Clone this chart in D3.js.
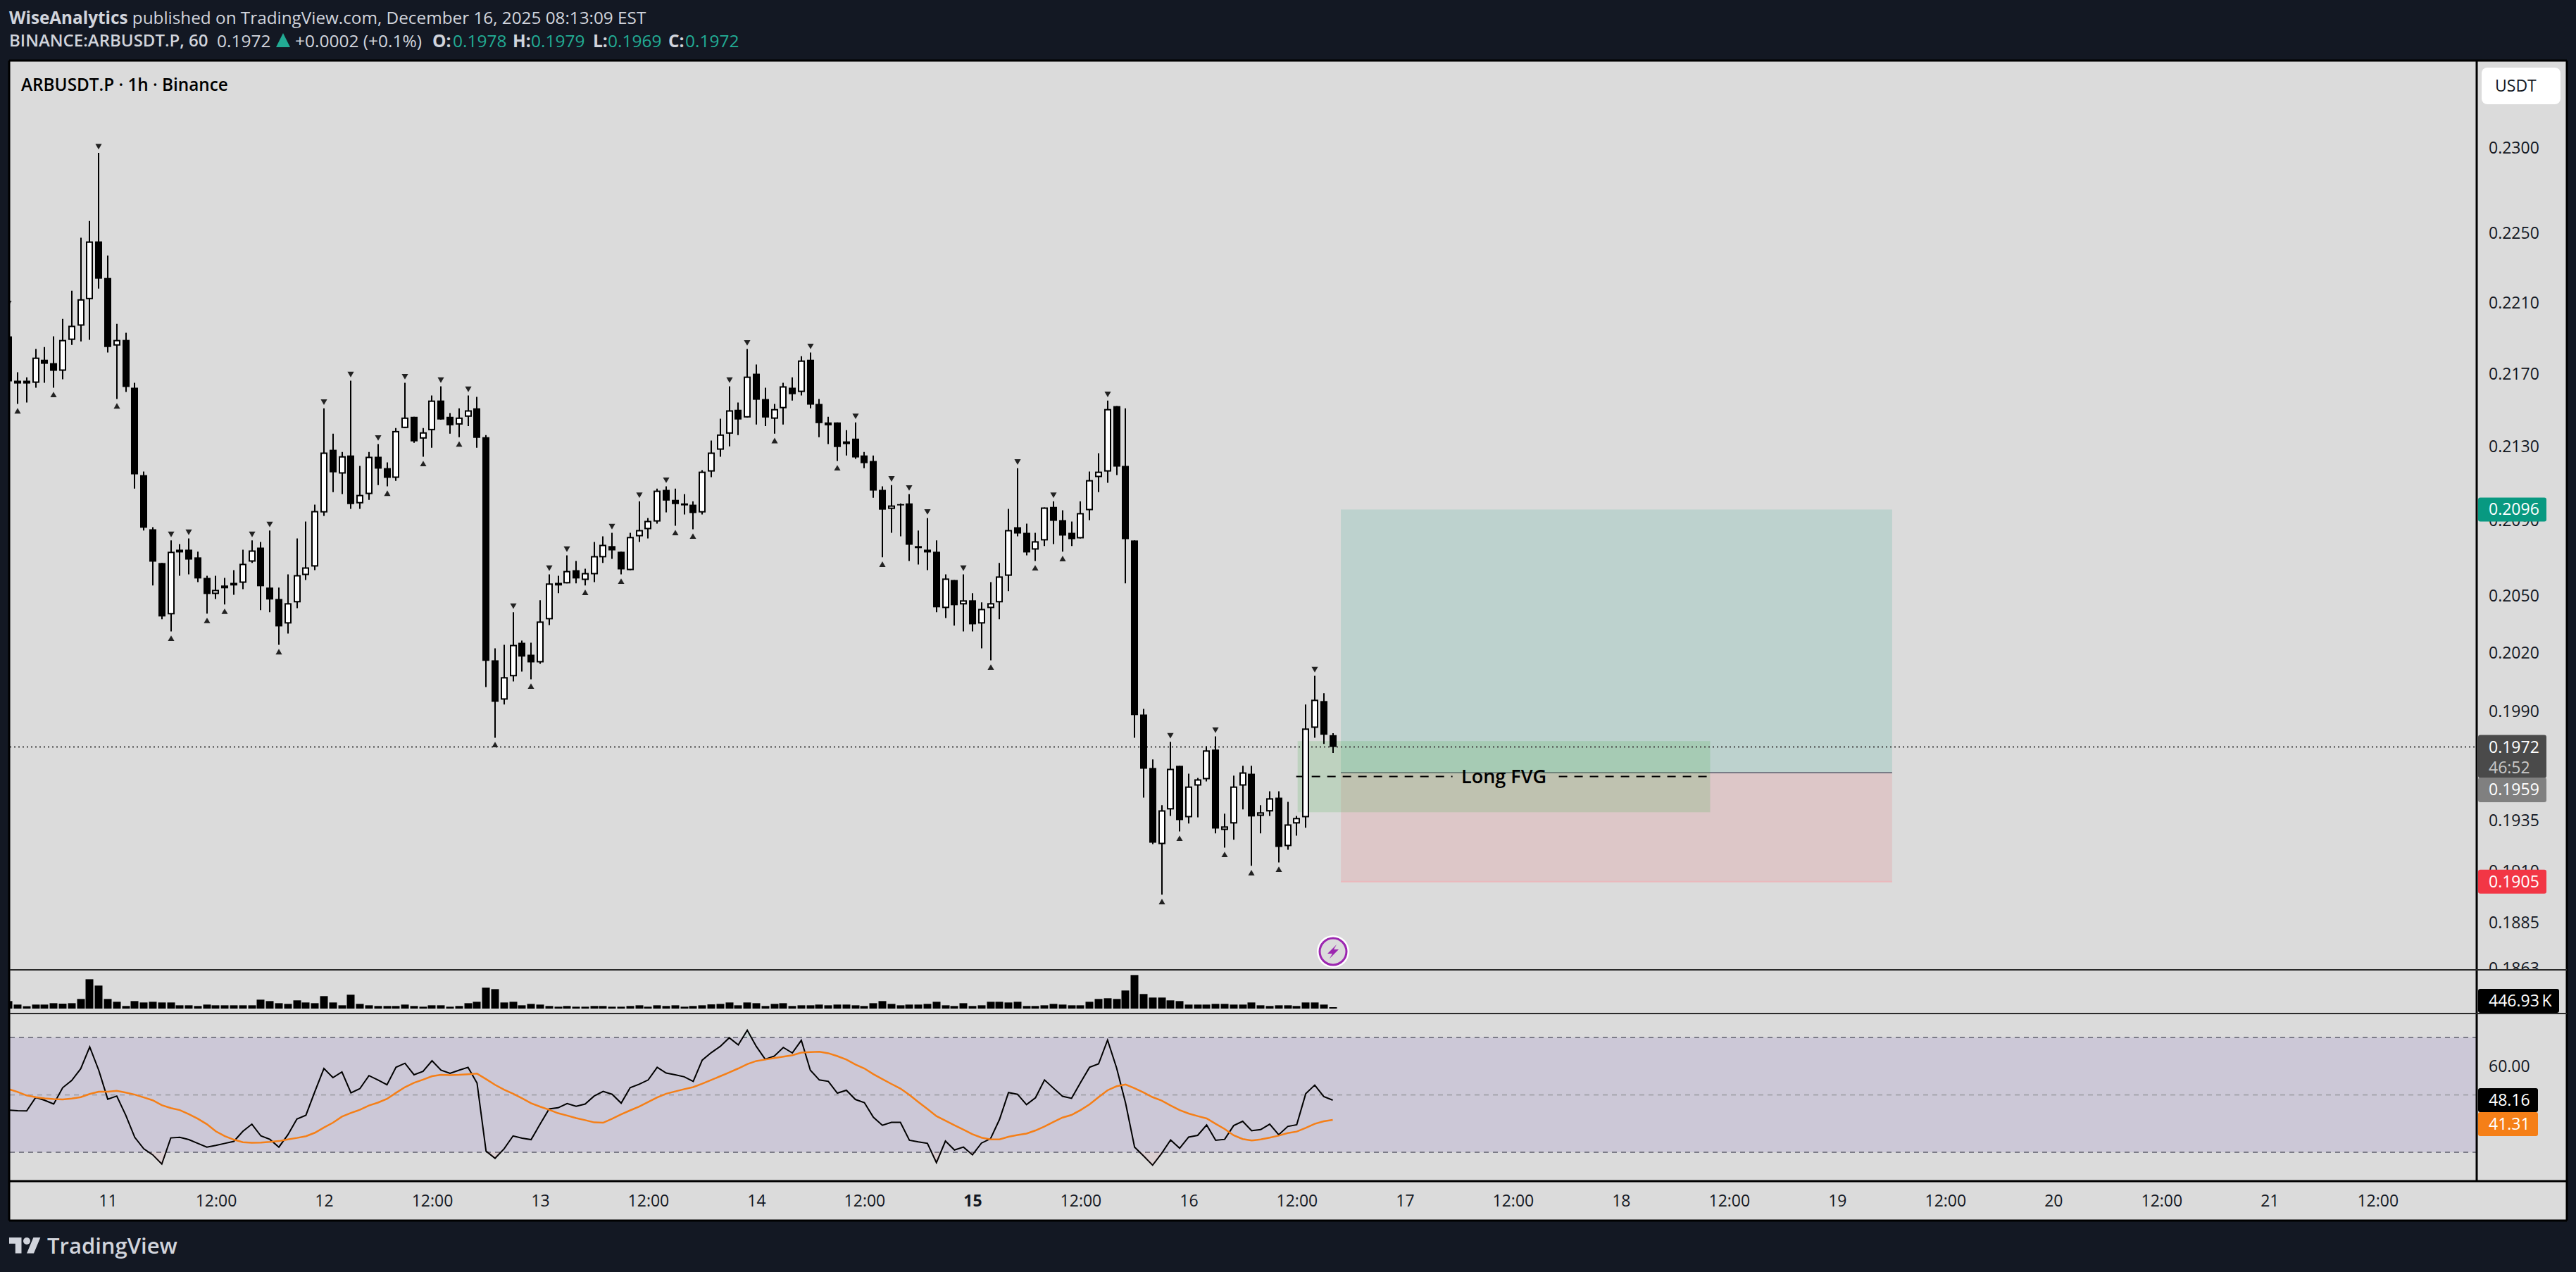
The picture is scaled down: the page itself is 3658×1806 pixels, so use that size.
<!DOCTYPE html>
<html>
<head>
<meta charset="utf-8">
<script src="https://cdn.jsdelivr.net/npm/d3@7"></script>
<style>
  html, body { margin: 0; padding: 0; background: #131823; overflow: hidden; }
  svg { display: block; }
  text { font-family: "Open Sans", sans-serif; }
</style>
</head>
<body>
<div id="chart"></div>
<script>
// hourly candles, first row is Dec 10, then one row per 12 bars
const opens = [
  .21913,.21665,.21665,.21653,.21782,.21763,.21720,.21893,.21973,.22123,.22454,
  .22244,.21861,.21893,.21626,.21146,.20854,.20674,.20403,.20745,.20745,.20704,.20595,
  .20510,.20555,.20555,.20569,.20681,.20756,.20544,.20484,.20355,.20466,.20610,.20655,
  .20944,.21284,.21154,.21253,.20993,.21043,.21246,.21184,.21131,.21403,.21465,.21345,
  .21391,.21555,.21465,.21422,.21465,.21512,.21353,.20164,.19961,.20081,.20255,.20193,
  .20153,.20377,.20555,.20566,.20636,.20584,.20614,.20704,.20764,.20734,.20636,.20816,
  .20854,.20895,.21066,.21012,.20993,.20986,.20944,.21165,.21284,.21372,.21504,.21461,
  .21704,.21563,.21454,.21512,.21626,.21602,.21782,.21536,.21434,.21434,.21315,.21345,
  .21253,.21223,.21066,.20963,.20989,.20993,.20764,.20745,.20734,.20436,.20584,.20455,
  .20477,.20355,.20436,.20466,.20606,.20865,.20835,.20745,.20794,.20974,.20903,.20835,
  .20805,.20956,.21135,.21165,.21524,.21196,.20794,.19885,.19614,.19234,.19406,.19625,
  .19367,.19525,.19557,.19707,.19304,.19336,.19525,.19585,.19374,.19396,.19465,.19224,
  .19336,.19367,.19817,.19954,.1978
];
const highs = [
  .22064,.21712,.21684,.21842,.21853,.21913,.22012,.22171,.22475,.22572,.22971,
  .22373,.21984,.21933,.21653,.21165,.20865,.20674,.20794,.20775,.20805,.20734,.20606,
  .20606,.20595,.20636,.20745,.20794,.20786,.20847,.20544,.20614,.20805,.20895,.20986,
  .21512,.21372,.21272,.21665,.21196,.21272,.21315,.21215,.21403,.21653,.21465,.21403,
  .21583,.21634,.21485,.21512,.21583,.21575,.21364,.20226,.20244,.20414,.20266,.20255,
  .20477,.20614,.20606,.20715,.20685,.20644,.20786,.20816,.20835,.20734,.20835,.21004,
  .20914,.21073,.21085,.21073,.21043,.21004,.21173,.21334,.21454,.21634,.21544,.21842,
  .21755,.21626,.21536,.21653,.21684,.21802,.21822,.21563,.21465,.21434,.21391,.21434,
  .21272,.21253,.21085,.21092,.20993,.21043,.20847,.20914,.20794,.20614,.20584,.20614,
  .20514,.20466,.20573,.20674,.20963,.21184,.20884,.20835,.20971,.21004,.20956,.20895,
  .21004,.21165,.21265,.21555,.21524,.21512,.20794,.19914,.19657,.19427,.19746,.19625,
  .19585,.19564,.19724,.19774,.19385,.19575,.19625,.19625,.19427,.19497,.19497,.19444,
  .19374,.19936,.20084,.19994,.1979
];
const lows = [
  .21661,.21536,.21544,.21626,.21653,.21626,.21673,.21865,.21885,.21893,.22183,
  .21822,.21563,.21602,.21073,.20847,.20555,.20377,.20314,.20606,.20614,.20573,.20407,
  .20484,.20455,.20506,.20536,.20674,.20425,.20414,.20244,.20303,.20436,.20584,.20636,
  .20926,.21054,.21043,.20963,.20963,.21012,.21092,.21085,.21115,.21403,.21322,.21246,
  .21295,.21450,.21372,.21353,.21414,.21295,.20026,.19767,.19936,.20055,.20106,.20066,
  .20146,.20347,.20514,.20566,.20566,.20555,.20573,.20674,.20696,.20614,.20636,.20786,
  .20805,.20884,.20944,.20873,.20933,.20854,.20933,.21135,.21246,.21303,.21364,.21461,
  .21422,.21414,.21372,.21422,.21555,.21583,.21512,.21353,.21315,.21223,.21253,.21234,
  .21184,.21023,.20704,.20835,.20816,.20685,.20666,.20636,.20414,.20384,.20344,.20314,
  .20314,.20226,.20164,.20377,.20525,.20816,.20715,.20685,.20764,.20775,.20734,.20764,
  .20805,.20903,.21054,.21104,.21146,.20566,.19767,.19465,.19234,.18986,.19374,.19297,
  .19336,.19367,.19546,.19287,.19217,.19256,.19406,.19127,.19287,.19374,.19144,.19206,
  .19276,.19315,.19767,.19735,.1969
];
const closes = [
  .21661,.21649,.21649,.21794,.21759,.21720,.21893,.21973,.22123,.22454,.22240,
  .21853,.21893,.21630,.21150,.20862,.20681,.20392,.20734,.20730,.20692,.20592,.20510,
  .20532,.20540,.20569,.20670,.20741,.20551,.20481,.20340,.20462,.20610,.20651,.20952,
  .21269,.21161,.21249,.20989,.21039,.21246,.21181,.21131,.21387,.21461,.21330,.21380,
  .21555,.21450,.21418,.21461,.21501,.21349,.20161,.19950,.20077,.20244,.20183,.20153,
  .20366,.20566,.20569,.20632,.20592,.20621,.20711,.20771,.20741,.20640,.20813,.20850,
  .20899,.21062,.21008,.20989,.20982,.20941,.21165,.21269,.21368,.21501,.21450,.21688,
  .21559,.21461,.21508,.21634,.21590,.21778,.21532,.21430,.21418,.21299,.21330,.21242,
  .21211,.21062,.20959,.20982,.20982,.20771,.20753,.20730,.20440,.20592,.20451,.20477,
  .20351,.20432,.20462,.20603,.20850,.20831,.20730,.20790,.20971,.20899,.20820,.20801,
  .20941,.21119,.21165,.21508,.21192,.20801,.19882,.19610,.19241,.19402,.19610,.19353,
  .19521,.19557,.19703,.19311,.19322,.19521,.19592,.19371,.19392,.19462,.19220,.19332,
  .19364,.19814,.19961,.19782,.1972
];
// volume in millions
const volumes = [
  2.38,1.27,.75,1.27,1.27,1.71,1.56,1.71,3.05,9.31,7.3,
  3.05,2.16,.82,2.38,1.94,2.16,1.94,1.94,1.04,1.04,.82,1.27,
  1.04,1.04,1.04,1.04,1.04,2.83,2.38,1.71,1.49,2.61,1.94,1.71,
  3.95,1.94,1.04,4.4,1.49,1.04,.82,.82,.82,1.27,.82,.6,
  1.04,1.04,.6,.82,1.71,2.16,6.63,6.18,1.94,2.16,1.04,1.49,
  1.27,.82,.6,.82,.6,.6,.82,.82,.6,.6,.82,1.04,
  .6,1.04,.82,1.04,.6,.82,1.04,1.34,1.49,1.94,1.04,1.94,
  1.71,.82,1.49,1.71,.82,1.04,1.04,1.27,1.04,1.27,1.27,1.04,
  .82,1.71,2.38,1.49,1.04,1.27,1.27,1.49,2.16,1.04,.82,1.71,
  .82,1.04,2.16,2.16,1.94,2.16,.82,.82,1.04,1.49,1.27,1.04,
  1.04,2.16,3.05,3.28,3.05,5.74,10.65,4.62,3.5,3.5,2.61,2.38,
  1.27,1.27,1.27,1.49,1.49,1.27,1.27,1.94,1.04,.82,1.04,1.04,
  .82,1.94,1.94,1.27,.447
];
const rsiValues = [
  44.7,44.5,44.4,49.1,48.1,46.8,52.5,55.0,59.1,66.7,58.6,
  48.5,49.6,42.9,35.2,31.2,29.1,25.9,35.0,35.2,34.4,33.1,31.8,
  32.4,33.1,33.8,37.3,39.8,35.7,34.5,31.8,36.1,41.6,42.9,51.2,
  59.2,56.0,58.0,50.7,52.2,56.7,55.2,53.5,59.6,61.0,57.0,58.2,
  61.9,58.6,57.5,58.6,59.6,54.1,30.4,27.9,31.2,35.7,34.9,34.4,
  39.8,45.1,45.5,47.0,46.0,46.8,49.6,51.2,50.2,47.1,52.5,53.7,
  55.2,59.6,57.6,57.0,56.3,54.7,62.1,64.7,66.9,69.9,67.4,72.5,
  66.9,62.4,63.5,66.5,64.6,69.0,58.6,55.2,54.7,50.6,51.6,48.4,
  47.3,42.2,39.4,40.4,40.4,34.2,33.6,33.1,26.4,33.9,30.8,31.8,
  29.1,33.2,34.7,41.4,50.8,50.2,46.6,49.0,55.2,52.3,49.5,48.8,
  54.3,59.6,60.8,69.1,59.4,47.1,31.8,28.7,25.5,29.6,34.3,31.4,
  35.3,35.9,39.5,34.2,34.5,39.3,40.8,37.5,37.9,39.8,36.1,39.0,
  39.6,50.4,53.4,49.4,48.16
];
const rsiMaValues = [
  52.0,51.0,49.8,49.2,48.8,48.5,48.4,48.7,49.2,50.3,51.1,
  51.1,51.4,50.8,50.1,49.1,48.1,46.4,45.4,44.7,43.3,41.7,39.8,
  37.3,35.6,34.4,33.5,33.3,33.4,33.6,33.9,34.5,35.0,35.6,36.8,
  38.6,40.3,42.4,43.7,44.8,46.3,47.3,48.6,50.7,52.7,54.2,55.3,
  56.5,57.0,56.9,57.0,57.2,57.4,55.5,53.5,51.8,50.4,48.8,47.1,
  45.9,44.8,43.6,42.8,41.9,41.2,40.4,40.3,41.7,43.2,44.6,45.9,
  47.5,49.1,50.4,51.2,52.0,52.7,53.9,55.2,56.5,57.8,59.2,60.7,
  61.8,62.3,62.8,63.3,63.8,64.7,64.9,65.0,64.5,63.5,62.3,60.6,
  59.2,57.2,55.5,53.8,52.2,50.0,47.5,45.1,42.6,41.0,39.4,37.9,
  36.3,35.1,34.5,34.5,35.4,36.0,36.5,37.6,39.0,40.6,42.1,43.0,
  44.7,46.7,49.2,51.6,53.0,53.6,52.3,50.8,49.2,48.0,46.3,44.7,
  43.5,42.6,41.8,39.9,38.1,35.9,34.6,34.1,34.5,35.1,35.8,36.7,
  37.2,38.5,39.9,40.8,41.31
];
// bars with a fractal mark, counted from Dec 11 00:00
const fractalHighs = [-11,-1,7,9,16,18,24,27,30,33,37,40,45,49,51,56,59,62,69,71,78,83,87,89,91,95,101,105,111,118,123,134];
const fractalLows = [-10,-6,1,7,11,13,19,31,35,39,43,47,53,57,63,65,74,81,86,98,103,106,117,119,124,127,130];

const priceTicks = [.23,.225,.221,.217,.213,.209,.205,.202,.199,.1935,.191,.1885,.1863];
const rsiTicks = [60];
const rsiLevels = [70,50,30];
const timeTicks = d3.range(0, 253, 12);
const timeLabels = ["11","12:00","12","12:00","13","12:00","14","12:00","15","12:00","16","12:00","17","12:00","18","12:00","19","12:00","20","12:00","21","12:00"];

// long position and FVG drawings: prices and bars
const longBars = [136.9, 198.1];
const longPrices = { tp: .2096, entry: .1959, sl: .1905 };
const fvgBars = [132.1, 177.9];
const fvgPrices = [.1975, .19392];
const fvgMid = .19571;
const lastPrice = .1972;
const lastRsi = 48.16;
const firstBar = -11;

const W = 3658, H = 1806;
const chartL = 14, chartR = 3517, outerR = 3645;
const mainT = 87, mainB = 1377, volB = 1439, rsiB = 1677, timeB = 1733;
const bg = "#131823", pane = "#dbdbdb", teal = "#22ab94";

const x = d3.scaleLinear().domain([-11, 263]).range([12.3, chartR]);
const y = d3.scaleLog().domain([.18623, .23517]).range([mainB, mainT]);
const yVol = d3.scaleLinear().domain([0, 11]).range([1432, 1382.8]);
const yRsi = d3.scaleLinear().domain([30, 70]).range([1636, 1473]);

const bars = opens.map((o, k) => ({
  i: firstBar + k, o, h: highs[k], l: lows[k], c: closes[k], v: volumes[k],
  up: closes[k] >= o, rsi: rsiValues[k], ma: rsiMaValues[k]
}));
const px = i => Math.round(x(i));

const svg = d3.select("#chart").append("svg").attr("width", W).attr("height", H);
svg.append("rect").attr("width", W).attr("height", H).attr("fill", bg);
svg.append("rect").attr("x", chartL).attr("y", mainT).attr("width", outerR - chartL).attr("height", timeB - mainT).attr("fill", pane);

const defs = svg.append("defs");
function addClip(id, x0, y0, x1, y1) {
  defs.append("clipPath").attr("id", id).append("rect").attr("x", x0).attr("y", y0).attr("width", x1 - x0).attr("height", y1 - y0);
}
addClip("main-clip", chartL, mainT, chartR, mainB);
addClip("axis-clip", chartR, mainT, outerR, mainB);
addClip("vol-clip", chartL, mainB, chartR, volB);
addClip("rsi-clip", chartL, volB, chartR, rsiB);
addClip("under-30", chartL, yRsi(30), chartR, rsiB);
addClip("over-70", chartL, volB, chartR, yRsi(70));

const main = svg.append("g").attr("clip-path", "url(#main-clip)");

// position boxes
main.append("rect").attr("x", x(longBars[0])).attr("width", x(longBars[1]) - x(longBars[0]))
  .attr("y", y(longPrices.tp)).attr("height", y(longPrices.entry) - y(longPrices.tp)).attr("fill", "rgba(8,153,129,.14)");
main.append("rect").attr("x", x(longBars[0])).attr("width", x(longBars[1]) - x(longBars[0]))
  .attr("y", y(longPrices.entry)).attr("height", y(longPrices.sl) - y(longPrices.entry)).attr("fill", "rgba(242,54,69,.12)");
main.append("line").attr("x1", x(longBars[0])).attr("x2", x(longBars[1]))
  .attr("y1", y(longPrices.entry)).attr("y2", y(longPrices.entry)).attr("stroke", "#787b86").attr("stroke-width", 2);
main.append("line").attr("x1", x(longBars[0])).attr("x2", x(longBars[1]))
  .attr("y1", y(longPrices.sl)).attr("y2", y(longPrices.sl)).attr("stroke", "#eab8bd").attr("stroke-width", 2);

// FVG box with its label
main.append("rect").attr("x", x(fvgBars[0])).attr("width", x(fvgBars[1]) - x(fvgBars[0]))
  .attr("y", y(fvgPrices[0])).attr("height", y(fvgPrices[1]) - y(fvgPrices[0])).attr("fill", "rgba(76,175,80,.2)");
const fvgCenter = x((fvgBars[0] + fvgBars[1]) / 2);
[[x(fvgBars[0]) - 2, fvgCenter - 73], [fvgCenter + 78, x(fvgBars[1]) - 4]].forEach(([a, b]) => {
  main.append("line").attr("x1", a).attr("x2", b).attr("y1", y(fvgMid)).attr("y2", y(fvgMid))
    .attr("stroke", "#000").attr("stroke-width", 2).attr("stroke-dasharray", "12,10");
});
main.append("text").attr("x", fvgCenter).attr("y", y(fvgMid)).attr("dy", ".35em").attr("text-anchor", "middle")
  .attr("font-size", 27).attr("font-weight", 600).attr("fill", "#000").text("Long FVG");

// last price line
main.append("line").attr("x1", chartL).attr("x2", chartR).attr("y1", y(lastPrice)).attr("y2", y(lastPrice))
  .attr("stroke", "#444").attr("stroke-width", 2).attr("stroke-dasharray", "2,4");

// candles
main.selectAll(".wick").data(bars).enter().append("line").attr("class", "wick")
  .attr("x1", d => px(d.i)).attr("x2", d => px(d.i))
  .attr("y1", d => y(d.h)).attr("y2", d => y(d.l))
  .attr("stroke", "#000").attr("stroke-width", 2);
main.selectAll(".body").data(bars).enter().append("rect").attr("class", "body")
  .attr("x", d => px(d.i) - (d.up ? 4 : 5))
  .attr("width", d => d.up ? 8 : 10)
  .attr("y", d => y(Math.max(d.o, d.c)) + (d.up ? 1 : 0))
  .attr("height", d => Math.abs(y(d.o) - y(d.c)) - (d.up ? 2 : 0))
  .attr("fill", d => d.up ? "#fff" : "#000")
  .attr("stroke", d => d.up ? "#000" : "none")
  .attr("stroke-width", 2);

// fractal marks
const triangle = d3.symbol().type(d3.symbolTriangle).size(36);
main.selectAll(".frac-high").data(fractalHighs).enter().append("path").attr("class", "frac-high")
  .attr("d", triangle)
  .attr("transform", i => `translate(${px(i)},${y(highs[i - firstBar]) - 10}) rotate(180)`)
  .attr("fill", "#222");
main.selectAll(".frac-low").data(fractalLows).enter().append("path").attr("class", "frac-low")
  .attr("d", triangle)
  .attr("transform", i => `translate(${px(i)},${y(lows[i - firstBar]) + 11})`)
  .attr("fill", "#222");

// lightning mark under the last bar
const icon = main.append("g").attr("transform", `translate(${px(136)},1351)`);
icon.append("circle").attr("r", 23).attr("fill", "#fff");
icon.append("circle").attr("r", 19).attr("fill", pane).attr("stroke", "#9c27b0").attr("stroke-width", 3);
icon.append("path").attr("d", "M5,-10L-8,3L-1,3L-5,10L8,-3L1,-3Z").attr("fill", "#9c27b0");

// volume
svg.append("g").attr("clip-path", "url(#vol-clip)").selectAll("rect").data(bars).enter().append("rect")
  .attr("x", d => px(d.i) - 5.5).attr("width", 11)
  .attr("y", d => yVol(d.v)).attr("height", d => yVol(0) - yVol(d.v)).attr("fill", "#000");

// RSI pane
const rsiG = svg.append("g").attr("clip-path", "url(#rsi-clip)");
rsiG.append("rect").attr("x", chartL).attr("width", chartR - chartL)
  .attr("y", yRsi(70)).attr("height", yRsi(30) - yRsi(70)).attr("fill", "#ccc8d7");
const rsiArea = base => d3.area().x(d => x(d.i)).y0(yRsi(base)).y1(d => yRsi(d.rsi));
svg.append("path").datum(bars).attr("clip-path", "url(#under-30)").attr("d", rsiArea(30)).attr("fill", "rgba(242,54,69,.06)");
svg.append("path").datum(bars).attr("clip-path", "url(#over-70)").attr("d", rsiArea(70)).attr("fill", "rgba(8,153,129,.06)");
rsiG.selectAll(".level").data(rsiLevels).enter().append("line").attr("class", "level")
  .attr("x1", chartL).attr("x2", chartR).attr("y1", d => yRsi(d)).attr("y2", d => yRsi(d))
  .attr("stroke", d => d === 50 ? "#a5a5ad" : "#7c7c88").attr("stroke-width", 2).attr("stroke-dasharray", "7,6");
rsiG.append("path").datum(bars).attr("fill", "none").attr("stroke", "#000").attr("stroke-width", 2)
  .attr("d", d3.line().x(d => x(d.i)).y(d => yRsi(d.rsi)));
rsiG.append("path").datum(bars).attr("fill", "none").attr("stroke", "#f57f17").attr("stroke-width", 2.5)
  .attr("d", d3.line().x(d => x(d.i)).y(d => yRsi(d.ma)));

// axes
function styleAxis(g, size) {
  g.select(".domain").remove();
  g.attr("font-family", '"Open Sans", sans-serif').attr("font-size", size).style("color", "#131722");
}
const priceAxis = svg.append("g").attr("clip-path", "url(#axis-clip)").append("g")
  .attr("transform", `translate(${chartR},0)`)
  .call(d3.axisRight(y).tickValues(priceTicks).tickFormat(d3.format(".4f")).tickSize(0).tickPadding(17));
styleAxis(priceAxis, 23);
const rsiAxis = svg.append("g").attr("transform", `translate(${chartR},0)`)
  .call(d3.axisRight(yRsi).tickValues(rsiTicks).tickFormat(d3.format(".2f")).tickSize(0).tickPadding(17));
styleAxis(rsiAxis, 23);
const timeAxis = svg.append("g").attr("transform", `translate(0,${rsiB})`)
  .call(d3.axisBottom(x).tickValues(timeTicks).tickFormat((d, k) => timeLabels[k]).tickSize(0).tickPadding(20));
styleAxis(timeAxis, 23);
timeAxis.selectAll("text").attr("font-weight", (d, k) => timeLabels[k] === "15" ? 700 : 400);

// borders
const frame = [
  [chartL - 1, mainT - 1, outerR, mainT - 1, 3, "#000"],
  [chartL - 1, mainT - 1, chartL - 1, timeB, 3, "#000"],
  [chartR, mainT, chartR, rsiB, 3, "#000"],
  [outerR, mainT - 1, outerR, timeB, 3, "#000"],
  [chartL, mainB, outerR, mainB, 2, "#2a2a2a"],
  [chartL, volB, outerR, volB, 2, "#2a2a2a"],
  [chartL, rsiB, outerR, rsiB, 3, "#000"],
  [chartL - 1, timeB, outerR, timeB, 3, "#000"]
];
svg.selectAll(".frame").data(frame).enter().append("line").attr("class", "frame")
  .attr("x1", d => d[0]).attr("y1", d => d[1]).attr("x2", d => d[2]).attr("y2", d => d[3])
  .attr("stroke-width", d => d[4]).attr("stroke", d => d[5]);

// price tags on the scale
function tag(yTop, h, w, color, label, sub) {
  svg.append("rect").attr("x", chartR + 2).attr("y", yTop).attr("width", w).attr("height", h).attr("rx", 3).attr("fill", color);
  svg.append("text").attr("x", 3534).attr("y", yTop + 17).attr("dy", ".35em").attr("font-size", 23).attr("font-weight", 500).attr("fill", "#fff").text(label);
  if (sub) svg.append("text").attr("x", 3534).attr("y", yTop + 46).attr("dy", ".35em").attr("font-size", 23).attr("font-weight", 500).attr("fill", "#c8c8c8").text(sub);
}
tag(y(longPrices.tp) - 17, 34, 97, "#089981", "0.2096");
tag(y(lastPrice) - 17, 61, 97, "#4a4a4a", "0.1972", "46:52");
tag(1104, 35, 97, "#808080", "0.1959");
tag(y(longPrices.sl) - 17, 34, 97, "#f23645", "0.1905");
tag(1404, 34, 115, "#000", "446.93\u2009K");
tag(yRsi(lastRsi) - 17, 34, 85, "#000", "48.16");
tag(1579, 34, 85, "#f57f17", "41.31");

// currency button
svg.append("rect").attr("x", 3524).attr("y", 96).attr("width", 112).attr("height", 52).attr("rx", 8).attr("fill", "#fff");
svg.append("text").attr("x", 3543).attr("y", 122).attr("dy", ".35em").attr("font-size", 23).attr("fill", "#131722").text("USDT");

// header texts
const head = "#d1d4dc";
function line(xPos, yPos, str, color, weight, size) {
  return svg.append("text").attr("x", xPos).attr("y", yPos).attr("dy", ".35em").attr("font-size", size || 24.5)
    .attr("font-weight", weight || 400).attr("fill", color).text(str);
}
const l1 = line(13, 25, "", head, 400, 24.3);
l1.append("tspan").attr("font-weight", 700).text("WiseAnalytics");
l1.append("tspan").text(" published on TradingView.com, December 16, 2025 08:13:09 EST");
line(13, 58, "BINANCE:ARBUSDT.P, 60", head, 600, 24);
line(308, 58, "0.1972", head);
svg.append("path").attr("d", "M392,67L402,47L412,67Z").attr("fill", teal);
line(419, 58, "+0.0002 (+0.1%)", head);
line(614, 58, "O:", head, 700); line(643, 58, "0.1978", teal);
line(728, 58, "H:", head, 700); line(754, 58, "0.1979", teal);
line(842, 58, "L:", head, 700); line(863, 58, "0.1969", teal);
line(949, 58, "C:", head, 700); line(973, 58, "0.1972", teal);
line(30, 120, "ARBUSDT.P \u00b7 1h \u00b7 Binance", "#000", 600, 24.3);

// logo
const logo = svg.append("g").attr("transform", "translate(13,1752) scale(1.25)").attr("fill", head);
logo.append("path").attr("d", "M14 22H7V11H0V4h14v18zM28 22h-8l7.5-18h8L28 22z");
logo.append("circle").attr("cx", 20).attr("cy", 8).attr("r", 4);
line(67, 1769, "TradingView", head, 600, 31);
</script>
</body>
</html>
